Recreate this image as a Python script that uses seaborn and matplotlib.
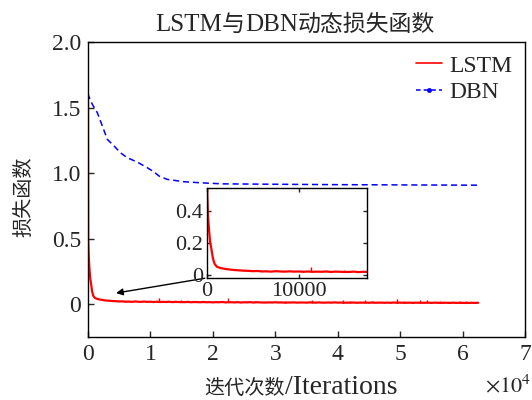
import numpy as np
import pandas as pd
import seaborn as sns
import matplotlib
matplotlib.use("Agg")
import matplotlib.pyplot as plt
from matplotlib.lines import Line2D

# ---------------- data ----------------
lstm_iter_early = [0, 30, 60, 120, 220, 350, 480, 650, 840, 1100, 1500, 2000, 2500, 3000, 3500, 4000]
lstm_loss_early = [1.60, 0.50, 0.45, 0.36, 0.28, 0.20, 0.16, 0.10, 0.065, 0.048, 0.040, 0.035,
                   0.031, 0.028, 0.026, 0.024]
lstm_iter_late = list(range(4500, 63000, 500))
lstm_loss_late = [
    .023, .021, .022, .019, .020, .018, .021, .019, .018, .020,
    .018, .019, .017, .019, .017, .018, .017, .019, .016, .018,
    .017, .016, .016, .018, .015, .017, .016, .015, .017, .015,
    .016, .014, .016, .015, .017, .014, .015, .015, .014, .016,
    .013, .015, .014, .016, .013, .015, .014, .013, .013, .014,
    .013, .015, .013, .014, .012, .013, .013, .014, .012, .013,
    .013, .012, .014, .013, .012, .014, .012, .012, .013, .012,
    .014, .012, .013, .011, .012, .012, .013, .011, .012, .012,
    .012, .011, .013, .011, .012, .012, .011, .012, .011, .013,
    .011, .012, .011, .011, .012, .010, .012, .011, .011, .011,
    .012, .010, .012, .011, .010, .011, .011, .010, .012, .010,
    .011, .010, .010, .010, .011, .010, .011,
]
lstm_iter = lstm_iter_early + lstm_iter_late
lstm_loss = lstm_loss_early + lstm_loss_late

# narrow spikes in the LSTM loss
spike_iter = [11300, 14900, 22400, 26700, 31600, 35900, 40900, 42000, 44400, 45700,
              49500, 50600, 53200, 54300, 56400, 59600, 60600]
spike_base = [0.017, 0.016, 0.015, 0.014, 0.013, 0.013, 0.012, 0.012, 0.012, 0.012,
              0.011, 0.011, 0.011, 0.011, 0.011, 0.010, 0.010]
spike_top = [0.048, 0.030, 0.045, 0.025, 0.028, 0.030, 0.032, 0.026, 0.030, 0.025,
             0.040, 0.027, 0.030, 0.033, 0.026, 0.028, 0.025]

dbn_iter = [0, 0, 700, 1500, 2300, 3100, 4200, 5200, 6300, 7900, 9500, 10600, 11400,
            12700, 15400, 18100, 21500, 30000, 40000, 50000, 62500]
dbn_loss = [0.0, 1.60, 1.524, 1.46, 1.359, 1.257, 1.206, 1.155, 1.117, 1.084, 1.041, 1.008,
            0.977, 0.952, 0.934, 0.926, 0.918, 0.915, 0.912, 0.910, 0.908]

series_names = ["LSTM", "DBN"]
title_parts = ["LSTM", "与", "DBN", "动态损失函数"]
xlabel_parts = ["迭代次数", "/Iterations"]
ylabel = "损失函数"
main_xticks = [0, 1, 2, 3, 4, 5, 6, 7]
main_yticks = [0, 0.5, 1.0, 1.5, 2.0]
main_yticklabels = ["0", "0.5", "1.0", "1.5", "2.0"]
inset_xticks = [0, 10000]
inset_yticks = [0, 0.2, 0.4]
inset_yticklabels = ["0", "0.2", "0.4"]

df_lstm = pd.DataFrame({"iter": lstm_iter, "loss": lstm_loss})
df_dbn = pd.DataFrame({"iter": dbn_iter, "loss": dbn_loss})

# ---------------- style ----------------
sns.set_style("ticks")
SERIF = ["Liberation Serif", "Noto Sans CJK SC"]
CJK = ["Noto Sans CJK SC", "Liberation Serif"]
plt.rcParams["font.family"] = SERIF
plt.rcParams["mathtext.fontset"] = "stix"
plt.rcParams["xtick.direction"] = "in"
plt.rcParams["ytick.direction"] = "in"
FS = 17

fig = plt.figure(figsize=(5.32, 4.0), dpi=100)
ax = fig.add_axes([88 / 532, 1 - 337 / 400, (525 - 88) / 532, (337 - 42) / 400])

RED = "#ff0000"
BLUE = "#0000ff"

def draw(a):
    sns.lineplot(data=df_dbn, x="iter", y="loss", ax=a, sort=False, estimator=None,
                 color=BLUE, linewidth=1.1, linestyle=(0, (4, 2.5)))
    sns.lineplot(data=df_lstm, x="iter", y="loss", ax=a, sort=False, estimator=None,
                 color=RED, linewidth=1.6)
    a.vlines(spike_iter, spike_base, spike_top, color=RED, linewidth=1.0)

draw(ax)
ax.set_xlim(0, 70000)
ax.set_ylim(-0.25, 2.0)
ax.set_xticks([t * 10000 for t in main_xticks])
ax.set_xticklabels([str(t) for t in main_xticks], fontsize=FS)
ax.set_yticks(main_yticks)
ax.set_yticklabels(main_yticklabels, fontsize=FS)
ax.tick_params(length=4, width=1, pad=5)
ax.set_xlabel("")
ax.set_ylabel("")
for s in ax.spines.values():
    s.set_linewidth(1.0)
    s.set_color("black")

renderer = fig.canvas.get_renderer()

def mixed_text(parts, styles, xc, yb):
    """Lay text pieces side by side on one baseline, centred at xc (pixels)."""
    objs = []
    for p, (fam, size) in zip(parts, styles):
        objs.append(fig.text(0, 1 - yb / 400, p, family=fam, fontsize=size,
                             ha="left", va="baseline"))
    widths = [o.get_window_extent(renderer).width for o in objs]
    x = xc - sum(widths) / 2
    for o, w in zip(objs, widths):
        o.set_x(x / 532)
        x += w

mixed_text(title_parts, [(SERIF, 18), (CJK, 16.5), (SERIF, 18), (CJK, 16.5)], 295, 31)
mixed_text(xlabel_parts, [(CJK, 14.5), (SERIF, 20)], 301, 394)
fig.text(24 / 532, 1 - 197 / 400, ylabel, family=CJK, fontsize=14.5,
         rotation=90, ha="center", va="center")
fig.text(531 / 532, 1 - 386 / 400, r"$\times 10^4$", fontsize=16, ha="right", va="center")

handles = [Line2D([], [], color=RED, linewidth=1.2),
           Line2D([], [], color=BLUE, linewidth=1.1, linestyle=(0, (3, 2)),
                  marker=".", markersize=5)]
ax.legend(handles, series_names, loc="upper right", frameon=False, fontsize=FS,
          handlelength=1.1, handletextpad=0.3, borderaxespad=0.15, labelspacing=0.2)

# arrow
ax.annotate("", xy=(4490, 0.085), xytext=(18700, 0.198),
            arrowprops=dict(arrowstyle="-|>", color="black", lw=1.0,
                            mutation_scale=10, shrinkA=0, shrinkB=0))

# ---------------- inset ----------------
ins = fig.add_axes([207 / 532, 1 - 277.7 / 400, (366.7 - 207) / 532, (277.7 - 188.3) / 400])
draw(ins)
ins.set_xlim(0, 17400)
ins.set_ylim(-0.02, 0.54)
ins.set_xticks(inset_xticks)
ins.set_xticklabels([str(t) for t in inset_xticks], fontsize=16)
ins.set_yticks(inset_yticks)
ins.set_yticklabels(inset_yticklabels, fontsize=16)
ins.tick_params(length=3, width=1, pad=3, top=True, right=True)
ins.set_xlabel("")
ins.set_ylabel("")
for s in ins.spines.values():
    s.set_linewidth(1.0)
    s.set_color("black")

fig.savefig("out.png", dpi=100)
